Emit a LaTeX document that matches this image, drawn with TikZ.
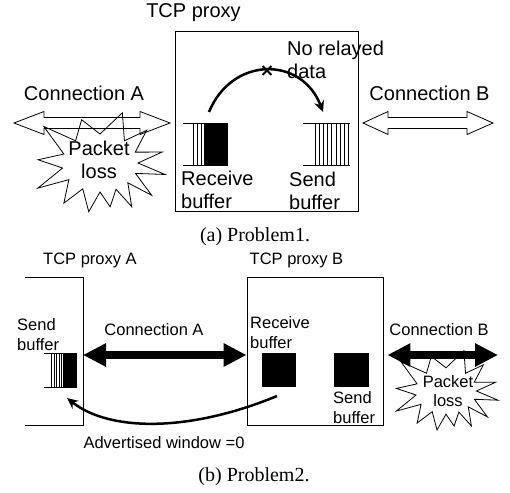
\documentclass[tikz,border=0pt]{standalone}
\usepackage{fontspec}
\setmainfont{Liberation Serif}
\newfontfamily\arialfont{Liberation Sans}
\usetikzlibrary{arrows.meta,shapes.misc}
\tikzset{
  lbl/.style={inner sep=0pt, font=\arialfont\fontsize{20}{23}\selectfont, align=left},
  lblc/.style={inner sep=0pt, font=\arialfont\fontsize{20}{23}\selectfont, align=center},
  lblb/.style={inner sep=0pt, font=\arialfont\fontsize{16.5}{20}\selectfont, align=left},
  lblbc/.style={inner sep=0pt, font=\arialfont\fontsize{16.5}{20}\selectfont, align=center},
  captxt/.style={inner sep=0pt, font=\fontsize{20}{23}\selectfont},
  boxst/.style={draw=black, line width=0.8pt, inner sep=0pt},
  outl/.style={draw=black, line width=0.8pt},
  stripe/.style={draw=black, line width=0.9pt},
  curvearrow/.style={draw=black, line width=2.5pt, -{Stealth[length=11pt,width=10pt]}},
  fatarrow/.style={draw=black, line width=7.5pt, {Triangle[length=23pt,width=22pt]}-{Triangle[length=23pt,width=22pt]}},
  burst/.pic={
    \path[draw=black, line width=0.8pt, pic actions]
      (-66:55) -- (-50:38 and 29) -- (-35:57) -- (-22:38 and 29) -- (-10:63) -- (0:38 and 29)
      -- (10:66) -- (21:38 and 29) -- (32:61) -- (43:38 and 29) -- (54:54) -- (65:38 and 29)
      -- (77:45) -- (90:38 and 29) -- (103:50) -- (117:38 and 29) -- (132:54) -- (145:38 and 29)
      -- (158:67) -- (170:38 and 29) -- (183:62) -- (198:38 and 29) -- (213:67) -- (230:38 and 29)
      -- (247:47) -- (270:38 and 29) -- cycle;
  }
}
\begin{document}
\begin{tikzpicture}[x=1pt,y=-1pt]
\useasboundingbox[fill=white] (0,0) rectangle (510,492);

% ================= Panel (a) =================
\node[boxst, minimum width=183pt, minimum height=180pt] (proxy) at (266.5,121) {};
\node[lbl, anchor=base] (proxyT) at (193.5,17.5) {TCP proxy};

% white double arrows
\path[outl] (14,123) -- (44,111.5) -- (44,117.5) -- (140,117.5) -- (140,111.5) -- (170,123)
  -- (140,134.5) -- (140,128.5) -- (44,128.5) -- (44,134.5) -- cycle;
\path[outl] (363,123) -- (388,111.5) -- (388,117.5) -- (467,117.5) -- (467,111.5) -- (493,123)
  -- (467,134.5) -- (467,128.5) -- (388,128.5) -- (388,134.5) -- cycle;
\node[lbl, anchor=base] (connA) at (84,100) {Connection A};
\node[lbl, anchor=base] (connB) at (429.5,100) {Connection B};

% packet loss burst (a)
\pic at (100,163) {burst};
\node[lblc, anchor=base] (lossA1) at (99,155) {Packet};
\node[lblc, anchor=base] (lossA2) at (99,178) {loss};

% receive buffer (a)
\draw[stripe] (183,123) -- (228,123) (183,165) -- (228,165);
\foreach \xx in {193,197,201,204.5} \draw[stripe] (\xx,123) -- (\xx,165);
\fill[black] (205,123) rectangle (228,165);
\node[lbl, anchor=north west] (rcvA) at (181,171) {Receive\\buffer};

% send buffer (a)
\draw[stripe] (303,123) -- (349.5,123) (303,165) -- (349.5,165);
\foreach \k in {0,...,8} \draw[stripe] ({315+4.2*\k},123) -- ({315+4.2*\k},165);
\node[lbl, anchor=north west] (sndA) at (289,172) {Send\\buffer};

% relay curve with cross
\coordinate (rcvTop) at (209,112);
\coordinate (sndTop) at (323,112);
\draw[curvearrow] (rcvTop) .. controls (232,56) and (302,56) .. (sndTop);
\node[cross out, draw=black, line width=1.8pt, minimum size=7pt, inner sep=0pt] (xmark) at (267,70.5) {};
\node[lbl, anchor=north west] (norelay) at (287,41) {No relayed\\data};

\node[captxt, anchor=base] (capA) at (255,241) {(a) Problem1.};

% ================= Panel (b) =================
\draw[outl] (25,277) -- (83,277) -- (83,425) -- (25,425);
\coordinate (pAedge) at (83,355);
\node[lblb, anchor=base] (proxyAT) at (90,264) {TCP proxy A};
\node[boxst, minimum width=136pt, minimum height=148pt] (proxyB) at (315,351) {};
\node[lblb, anchor=base] (proxyBT) at (296.5,264) {TCP proxy B};

% send buffer in proxy A
\draw[stripe] (44,353) -- (77,353) (44,387) -- (77,387);
\foreach \xx in {51.5,54,56.5,59,61.5} \draw[stripe] (\xx,353) -- (\xx,387);
\fill[black] (63,353) rectangle (77,387);
\node[lblb, anchor=north west] (sndBA) at (17,318) {Send\\buffer};

% buffers in proxy B
\fill[black] (262,353) rectangle (296,387);
\fill[black] (334,353) rectangle (369,387);
\node[lblb, anchor=north west] (rcvB) at (250,316) {Receive\\buffer};
\node[lblb, anchor=north west] (sndB) at (333,391) {Send\\buffer};

% packet loss burst (b)
\pic[scale=0.8, fill=white] at (446,391) {burst};
\node[lblbc, anchor=base] (lossB1) at (448,387) {Packet};
\node[lblbc, anchor=base] (lossB2) at (448,406) {loss};

% fat arrows
\coordinate (connBend) at (498,355);
\draw[fatarrow] (pAedge) -- (proxyB.west |- pAedge);
\draw[fatarrow] (proxyB.east |- pAedge) ++(4,0) coordinate (connBstart) -- (connBend);
\node[lblb, anchor=base] (connAb) at (154,335) {Connection A};
\node[lblb, anchor=base] (connBb) at (439,335) {Connection B};

% advertised window curve
\coordinate (advStart) at (277,396);
\coordinate (advEnd) at (67,398);
\draw[curvearrow] (advStart) .. controls (190,432) and (110,432) .. (advEnd);
\node[lblb, anchor=base] (adv) at (164,448) {Advertised window =0};

\node[captxt, anchor=base] (capB) at (254,481.5) {(b) Problem2.};
\end{tikzpicture}
\end{document}
